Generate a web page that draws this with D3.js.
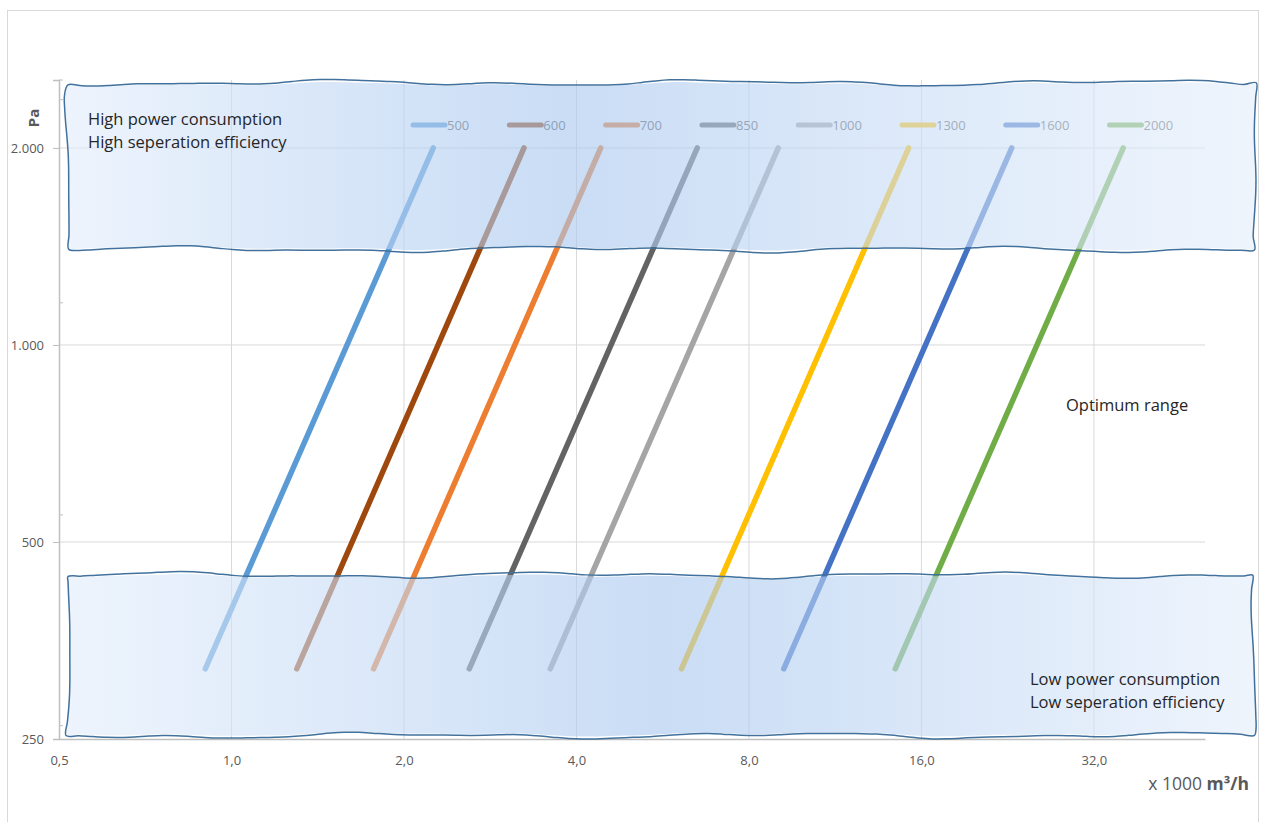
<!DOCTYPE html>
<html>
<head>
<meta charset="utf-8">
<script src="https://cdn.jsdelivr.net/npm/d3@7"></script>
<style>
  body { margin: 0; background: #fff; }
  svg { display: block; font-family: "Open Sans", sans-serif; }
</style>
</head>
<body>
<svg id="chart" width="1263" height="822"></svg>
<script>
// filter sizes and their working range (flow in 1000 m3/h, pressure in Pa)
var sizes = ["500", "600", "700", "850", "1000", "1300", "1600", "2000"];
var flowLow = [0.9, 1.3, 1.77, 2.6, 3.6, 6.1, 9.2, 14.4];
var flowHigh = [2.25, 3.24, 4.41, 6.5, 9.0, 15.2, 23.0, 36.0];
var pressureEnds = [320, 2000];
var colors = ["#5b9bd5", "#9e480e", "#ed7d31", "#636363", "#a5a5a5", "#ffc000", "#4472c4", "#70ad47"];

var xTicks = [0.5, 1, 2, 4, 8, 16, 32];
var yTicks = [250, 500, 1000, 2000];
var yMinorTicks = [262, 550, 1160, 2370, 2540];

// shaded zones: [low, high] pressure and flow span
var zoneHighP = [1400, 2515];
var zoneLowP = [253, 445];
var zoneFlow = [0.51, 61];

var svg = d3.select("#chart");
var margin = { left: 59, right: 1205, top: 80, bottom: 739 };

var x = d3.scaleLog().base(2).domain([0.5, 50]).range([margin.left, margin.right]);
var y = d3.scaleLog().base(2).domain([250, 2540]).range([margin.bottom, margin.top]);

var de = d3.formatLocale({ decimal: ",", thousands: ".", grouping: [3], currency: ["", ""] });
var fmtX = de.format(".1f");
var fmtY = de.format(",d");

// outer frame
svg.append("rect")
    .attr("x", 7.5).attr("y", 10.5)
    .attr("width", 1251).attr("height", 830)
    .attr("fill", "none").attr("stroke", "#d9d9d9");

var defs = svg.append("defs");
function zoneGradient(id, mid) {
  var g = defs.append("linearGradient").attr("id", id)
      .attr("x1", 0).attr("x2", 1).attr("y1", 0).attr("y2", 0);
  g.append("stop").attr("offset", "0%").attr("stop-color", "#e2edfb");
  g.append("stop").attr("offset", (mid - 0.22) * 100 + "%").attr("stop-color", "#c3d9f5");
  g.append("stop").attr("offset", mid * 100 + "%").attr("stop-color", "#a9c8ef");
  g.append("stop").attr("offset", (mid + 0.25) * 100 + "%").attr("stop-color", "#c5daf5");
  g.append("stop").attr("offset", "100%").attr("stop-color", "#e4eefb");
}
zoneGradient("gTop", 0.42);
zoneGradient("gBot", 0.5);

// grid
svg.append("g").selectAll("line").data(xTicks.slice(1)).join("line")
    .attr("x1", d => x(d)).attr("x2", d => x(d))
    .attr("y1", margin.top).attr("y2", margin.bottom)
    .attr("stroke", "#d9d9d9");
svg.append("g").selectAll("line").data(yTicks.slice(1)).join("line")
    .attr("x1", margin.left).attr("x2", margin.right)
    .attr("y1", d => y(d)).attr("y2", d => y(d))
    .attr("stroke", "#d9d9d9");

// axes
var yAxis = svg.append("g")
    .attr("transform", "translate(" + margin.left + ",0)")
    .call(d3.axisLeft(y).tickValues(yTicks).tickFormat(fmtY).tickSize(6).tickPadding(9));
svg.append("g").attr("transform", "translate(" + margin.left + ",0)")
  .selectAll("line").data(yMinorTicks).join("line")
    .attr("x1", 0).attr("x2", 4)
    .attr("y1", d => y(d)).attr("y2", d => y(d))
    .attr("stroke", "#bfbfbf");
var xAxis = svg.append("g")
    .attr("transform", "translate(0," + margin.bottom + ")")
    .call(d3.axisBottom(x).tickValues(xTicks).tickFormat(fmtX).tickSize(0).tickPadding(17));
[yAxis, xAxis].forEach(function(a) {
  a.select(".domain").attr("stroke", "#bfbfbf").attr("stroke-width", 1.5);
  a.selectAll(".tick line").attr("stroke", "#bfbfbf");
  a.selectAll("text").attr("fill", "#595959").style("font-size", "13px").style("font-family", "'Open Sans', sans-serif");
});

// series
var series = sizes.map(function(s, i) {
  return { name: s, color: colors[i], pts: [[flowLow[i], pressureEnds[0]], [flowHigh[i], pressureEnds[1]]] };
});
var line = d3.line().x(d => x(d[0])).y(d => y(d[1]));
svg.append("g").selectAll("path").data(series).join("path")
    .attr("d", d => line(d.pts))
    .attr("fill", "none")
    .attr("stroke", d => d.color)
    .attr("stroke-width", 5.5)
    .attr("stroke-linecap", "round");

// legend
var legend = svg.append("g").attr("transform", "translate(0,125)");
var lx = 411;
series.forEach(function(s) {
  var it = legend.append("g").attr("transform", "translate(" + lx + ",0)");
  it.append("line").attr("x1", 2).attr("x2", 34).attr("y1", 0).attr("y2", 0)
      .attr("stroke", s.color).attr("stroke-width", 5).attr("stroke-linecap", "round");
  var t = it.append("text").attr("x", 36).attr("y", 4.8)
      .attr("fill", "#595959").style("font-size", "13px").text(s.name);
  lx += 36 + t.node().getComputedTextLength() + 38;
});

// wavy zone shapes
function wobble(t, seed) {
  return 2.0 * Math.sin(t * 0.016 + seed) + 1.4 * Math.sin(t * 0.037 + seed * 2.3) + 0.5 * Math.sin(t * 0.07 + seed * 0.7);
}
function wavyRect(x0, x1, y0, y1, seed, k) {
  var pts = [], t;
  for (t = 0; t <= x1 - x0; t += 14) pts.push([x0 + t, y0 + k * wobble(t, seed)]);
  for (t = 0; t <= y1 - y0; t += 14) pts.push([x1 + k * wobble(t, seed + 1.1) * 0.9, y0 + t]);
  for (t = x1 - x0; t >= 0; t -= 14) pts.push([x0 + t, y1 + k * wobble(t, seed + 2.7)]);
  for (t = y1 - y0; t >= 0; t -= 14) pts.push([x0 + k * wobble(t, seed + 4.2) * 0.9, y0 + t]);
  return d3.line().curve(d3.curveCatmullRomClosed)(pts);
}
var zones = [
  { p: zoneHighP, grad: "gTop", seed: 0.4 },
  { p: zoneLowP, grad: "gBot", seed: 3.1 }
];
function zonePath(d, dy, k) {
  return wavyRect(x(zoneFlow[0]) + 4, x(zoneFlow[1]), y(d.p[1]) + dy, y(d.p[0]) - dy, d.seed, k);
}
var zg = svg.append("g").selectAll("g").data(zones).join("g");
zg.append("path")
    .attr("d", d => zonePath(d, 1.5, 0.7))
    .attr("fill", d => "url(#" + d.grad + ")")
    .attr("fill-opacity", 0.62);
zg.append("path")
    .attr("d", d => zonePath(d, 0, 1))
    .attr("fill", "none")
    .attr("stroke", "#41719c")
    .attr("stroke-width", 1.5);

// annotations
var notes = svg.append("g").attr("fill", "#262626").style("font-size", "16.5px");
notes.append("text").attr("x", 88).attr("y", 125).text("High power consumption");
notes.append("text").attr("x", 88).attr("y", 148).text("High seperation efficiency");
notes.append("text").attr("x", 1066).attr("y", 411).text("Optimum range");
notes.append("text").attr("x", 1030).attr("y", 685).text("Low power consumption");
notes.append("text").attr("x", 1030).attr("y", 708).text("Low seperation efficiency");

// axis titles
svg.append("text")
    .attr("transform", "translate(39,118) rotate(-90)")
    .attr("text-anchor", "middle")
    .attr("fill", "#595959").style("font-size", "15px").style("font-weight", "bold")
    .text("Pa");
var xt = svg.append("text")
    .attr("x", 1249).attr("y", 790).attr("text-anchor", "end")
    .attr("fill", "#595959").style("font-size", "17.5px");
xt.append("tspan").text("x 1000 ");
xt.append("tspan").style("font-weight", "bold").text("m³/h");
</script>
</body>
</html>
